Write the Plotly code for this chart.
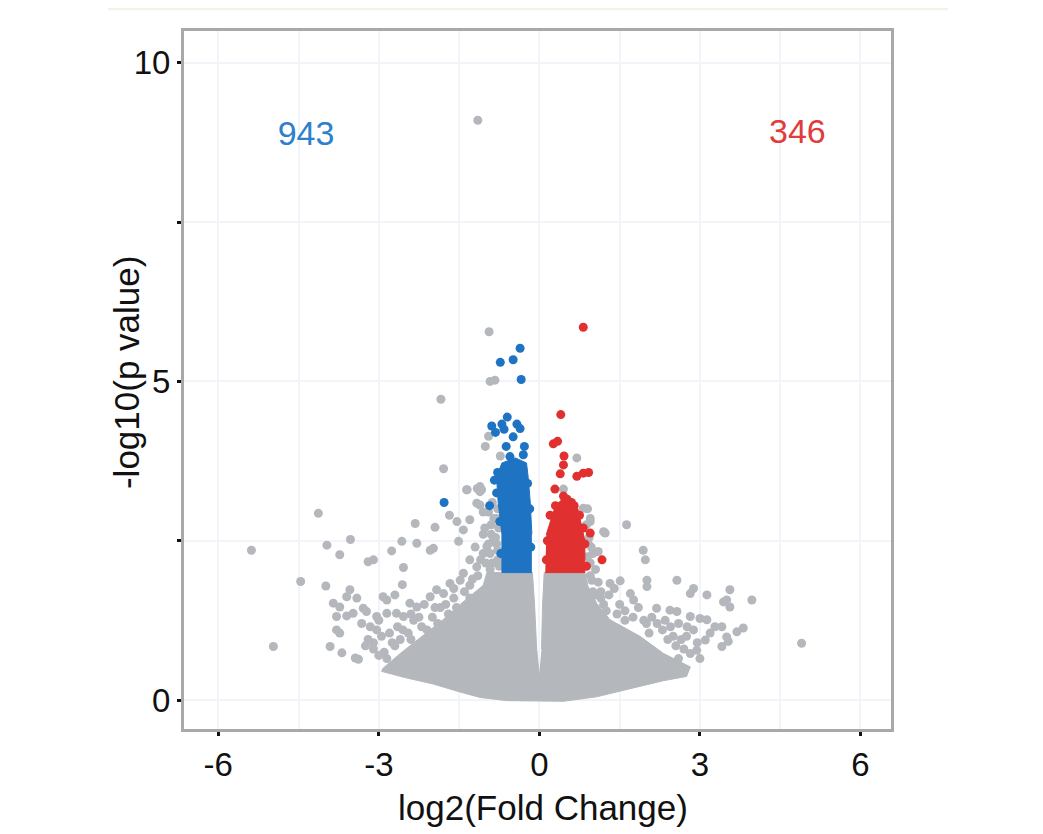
import plotly.graph_objects as go

# ---------------- data ----------------
# dense grey cloud outline (log2FC, -log10 p)
gray_core_x = [-0.005, -0.05, -0.09, -0.13, -0.72, -0.98, -1.05, -1.48, -1.80, -2.20, -2.60, -2.92, -2.95,
               -2.50, -1.98, -1.50, -1.11, -0.60, 0.0, 0.45, 1.07, 1.88, 2.30, 2.75, 2.82, 2.32, 1.88,
               1.32, 1.07, 0.91, 0.85, 0.09, 0.06, 0.04]
gray_core_y = [0.40, 0.80, 1.50, 2.00, 2.00, 2.00, 1.80, 1.50, 1.26, 1.00, 0.73, 0.50, 0.45,
               0.35, 0.25, 0.13, 0.04, -0.01, -0.02, -0.02, 0.05, 0.21, 0.30, 0.37, 0.52, 0.73, 1.00,
               1.26, 1.52, 1.78, 2.00, 2.00, 1.50, 0.80]

# dense blue (down) column outline
blue_core_x = [-0.14, -0.70, -0.70, -0.77, -0.80, -0.70, -0.45, -0.24, -0.21, -0.17, -0.14]
blue_core_y = [2.00, 2.00, 2.60, 3.10, 3.50, 3.72, 3.80, 3.72, 3.50, 3.10, 2.60]

# dense red (up) column outline
red_core_x = [0.11, 0.85, 0.85, 0.78, 0.72, 0.60, 0.45, 0.30, 0.22, 0.13]
red_core_y = [2.00, 2.00, 2.50, 2.75, 3.00, 3.10, 3.17, 3.05, 2.85, 2.60]

# individual grey genes
gray_x = [-5.38, -4.97, -4.13, -4.46, -3.97, -3.73, -3.53, -3.99, -3.91, -3.69, -3.44, -3.38, -3.20, -3.10,
          -2.76, -2.57, -2.54, -2.32, -2.29, -2.04, -1.98, -1.95, -1.68, -1.54, -1.51, -1.42, -1.30, -1.35,
          -1.17, -1.11, -1.11, -1.08, -2.56, -2.92, -2.85, -2.70, -3.54, -3.60, -3.41, -3.85, -3.73, -3.79,
          -3.60, -3.48, -3.79, -3.73, -3.29, -3.23, -3.32, -3.16, -3.04, -3.04, -2.85, -2.67, -2.54, -2.42,
          -2.29, -2.04, -1.92, -1.79, -1.67, -1.48, -1.42, -1.17, -1.05, -0.98, -0.86,
          -2.20, -2.00, -1.85, -1.60, -2.40, -2.70, -2.90, -3.10, -3.20, -2.55, -2.35, -1.30, -1.15,
          -0.78, -0.80, -0.76, -0.88, -0.92, -0.85, -0.95, -0.90,
          -1.15, -0.94, -0.92, -0.83, -1.84, -1.01, -0.95, -0.73, -1.79, -1.36, -1.11, -1.16,
          -3.00, -2.95, -2.80, -2.75, -2.65, -2.60, -2.45, -2.40, -2.25, -2.15, -2.10, -1.95, -1.90,
          -1.75, -1.70, -1.60, -1.55, -1.40, -1.30, -1.25, -1.10, -1.20, -1.30, -1.05, -3.10, -3.25,
          -3.00, -2.85,
          -0.75, -0.78, -0.82, -0.80, -0.90, -0.95, -1.00, -1.02, -0.88, -0.78, -1.05, -0.92,
          1.63, 1.23, 0.95, 1.10, 1.94, 1.98, 2.57, 2.01, 2.01, 1.51, 1.32, 0.98, 2.88, 2.82, 3.13,
          3.56, 3.50, 3.56, 3.44, 3.97, 3.81, 3.69, 3.50, 3.53, 3.28, 3.41, 3.00, 3.13, 2.44, 2.57,
          2.19, 1.70, 1.76, 2.82, 2.76, 2.88, 3.19, 3.10, 3.41, 2.94, 2.82, 4.90, 0.70, 0.45, 0.82,
          0.95, 1.20, 1.20, 1.45, 1.60, 2.00, 2.30, 2.50, 2.65, 2.60, 1.05, 1.15, 0.95, 0.91, 0.95,
          1.00, 1.10, 1.15, 1.30, 1.40, 1.50, 1.60, 1.75, 1.85, 1.95, 2.10, 2.20, 2.35, 2.45, 2.60,
          2.40, 2.55, 2.70, 2.75, 2.95, 3.00, 2.05, 1.25, 1.05, 1.00,
          0.90, 0.93, 0.88, 0.90, 0.97]
gray_y = [2.35, 0.84, 2.93, 1.86, 2.43, 2.28, 2.52, 1.79, 0.84, 0.74, 0.66, 0.64, 2.17, 2.20,
          2.34, 2.49, 2.08, 2.77, 2.46, 2.35, 2.38, 2.71, 2.90, 2.80, 2.49, 2.67, 2.83, 3.30,
          3.09, 3.06, 3.35, 3.30, 1.81, 1.62, 1.57, 1.65, 1.73, 1.62, 1.60, 1.52, 1.46, 1.31,
          1.32, 1.36, 1.10, 1.05, 1.44, 1.39, 1.20, 1.15, 1.10, 1.31, 1.36, 1.36, 1.31, 1.52,
          1.46, 1.62, 1.73, 1.67, 1.83, 1.88, 1.99, 2.09, 2.30, 2.41, 2.51,
          1.15, 1.30, 1.45, 1.60, 0.95, 0.85, 0.75, 0.90, 0.95, 1.10, 1.25, 1.80, 1.95,
          2.20, 2.45, 2.70, 2.15, 2.30, 2.85, 2.95, 2.60,
          9.10, 5.78, 5.00, 5.02, 4.72, 3.98, 4.14, 3.83, 3.63, 3.30, 3.27, 3.32,
          1.25, 1.00, 1.05, 0.90, 1.15, 0.95, 1.05, 1.35, 1.30, 1.50, 1.10, 1.45, 1.20,
          1.50, 1.35, 1.75, 1.45, 1.70, 1.60, 1.90, 2.20, 2.40, 2.20, 2.60, 0.80, 0.85,
          0.70, 0.65,
          2.10, 2.35, 2.55, 2.85, 2.75, 2.45, 2.15, 2.70, 3.10, 3.00, 2.95, 2.05,
          2.75, 2.62, 2.80, 2.33, 2.35, 2.20, 1.88, 1.88, 1.78, 1.87, 1.83, 1.88, 1.75, 1.67, 1.65,
          1.73, 1.57, 1.46, 1.54, 1.57, 1.13, 1.07, 0.99, 0.92, 1.15, 1.15, 1.28, 1.26, 1.41, 1.39,
          1.44, 1.67, 1.57, 1.31, 1.15, 1.10, 1.05, 0.94, 0.84, 0.78, 0.73, 0.89, 3.80, 3.31, 3.01,
          2.85, 2.64, 1.50, 1.35, 1.25, 1.20, 1.10, 1.00, 0.95, 0.65, 1.65, 1.70, 1.95, 2.46, 2.15,
          1.70, 1.85, 1.60, 1.65, 1.75, 1.50, 1.40, 1.30, 1.45, 1.25, 1.30, 1.20, 1.25, 1.15, 1.20,
          0.95, 0.85, 0.80, 1.00, 0.90, 0.65, 1.05, 1.40, 2.05, 2.30,
          2.25, 2.55, 2.75, 3.00, 2.40]

# individual down-regulated genes
blue_x = [-0.36, -0.73, -0.49, -0.34, -0.60, -0.89, -0.70, -0.42, -0.36, -0.49, -0.62, -0.28, -0.55,
          -0.78, -1.78, -0.93, -0.82, -0.66, -0.30, -0.84, -0.80, -0.72, -0.74, -0.16, -0.18, -0.22]
blue_y = [5.52, 5.30, 5.34, 5.03, 4.44, 4.30, 4.33, 4.33, 4.26, 4.13, 3.98, 3.98, 3.82,
          3.57, 3.10, 3.05, 4.20, 4.25, 3.85, 3.45, 3.25, 2.30, 2.80, 2.40, 3.00, 3.40]

# individual up-regulated genes
red_x = [0.82, 0.40, 0.26, 0.34, 0.46, 0.45, 0.39, 0.70, 0.82, 0.92, 0.29, 0.45, 0.95, 1.17, 0.60,
         0.30, 0.88, 0.85, 0.20, 0.75, 0.65, 0.52, 0.82, 0.13, 0.15]
red_y = [5.85, 4.48, 4.02, 4.06, 3.83, 3.69, 3.55, 3.51, 3.56, 3.57, 3.31, 3.20, 2.62, 2.20, 3.10,
         3.05, 2.10, 2.45, 2.90, 2.90, 3.05, 3.15, 2.70, 2.20, 2.50]

# counts of significant genes
count_labels = ["943", "346"]
count_x = [-4.36, 4.82]
count_y = [8.84, 8.87]

# axis ticks
x_ticks = [-6, -3, 0, 3, 6]
x_ticklabels = ["-6", "-3", "0", "3", "6"]
y_ticks = [0, 5, 10]
y_ticklabels = ["0", "5", "10"]

# ---------------- styling ----------------
GRAY = "#b4b7bc"
BLUE = "#1f73c3"
RED = "#e0302f"
FONT = "Liberation Sans, Arial, sans-serif"
GRID = "#f2f4f9"
INK = "#111111"
MS = 9

fig = go.Figure()

fig.add_trace(go.Scatter(x=gray_core_x, y=gray_core_y, mode="lines", fill="toself",
                         fillcolor=GRAY, line=dict(color=GRAY, width=1), hoverinfo="skip"))
fig.add_trace(go.Scatter(x=gray_x, y=gray_y, mode="markers",
                         marker=dict(color=GRAY, size=MS, line=dict(width=0))))
fig.add_trace(go.Scatter(x=blue_core_x, y=blue_core_y, mode="lines", fill="toself",
                         fillcolor=BLUE, line=dict(color=BLUE, width=1), hoverinfo="skip"))
fig.add_trace(go.Scatter(x=blue_x, y=blue_y, mode="markers",
                         marker=dict(color=BLUE, size=MS, line=dict(width=0))))
fig.add_trace(go.Scatter(x=red_core_x, y=red_core_y, mode="lines", fill="toself",
                         fillcolor=RED, line=dict(color=RED, width=1), hoverinfo="skip"))
fig.add_trace(go.Scatter(x=red_x, y=red_y, mode="markers",
                         marker=dict(color=RED, size=MS, line=dict(width=0))))
fig.add_trace(go.Scatter(x=count_x, y=count_y, mode="text", text=count_labels,
                         textfont=dict(family=FONT, size=34, color=["#2f80cc", "#e03c3c"])))

axis_common = dict(showline=True, mirror=True, linecolor="#a9a9a9", linewidth=3,
                   ticks="outside", ticklen=4, tickwidth=3, tickcolor=INK,
                   tickfont=dict(family=FONT, size=33, color=INK),
                   showgrid=True, gridcolor=GRID, gridwidth=1.5, zeroline=False)

fig.update_xaxes(range=[-6.64, 6.57], tickvals=x_ticks, ticktext=x_ticklabels, **axis_common,
                 minor=dict(tickvals=[-4.5, -1.5, 1.5, 4.5], ticks="", showgrid=True,
                            gridcolor=GRID, gridwidth=1.5))
fig.update_yaxes(range=[-0.455, 10.5], tickvals=y_ticks, ticktext=y_ticklabels, **axis_common,
                 minor=dict(tickvals=[2.5, 7.5], ticks="outside", ticklen=4, tickwidth=3,
                            tickcolor=INK, showgrid=True, gridcolor=GRID, gridwidth=1.5))

fig.update_layout(width=1043, height=834, showlegend=False,
                  paper_bgcolor="white", plot_bgcolor="white",
                  margin=dict(l=176, r=160, t=23, b=113, autoexpand=False),
                  annotations=[
                      dict(text="log2(Fold Change)", xref="paper", yref="paper", x=0.508, y=-0.113,
                           showarrow=False, xanchor="center", yanchor="middle",
                           font=dict(family=FONT, size=35, color=INK)),
                      dict(text="-log10(p value)", xref="paper", yref="paper", x=-0.082, y=0.51,
                           showarrow=False, xanchor="center", yanchor="middle", textangle=-90,
                           font=dict(family=FONT, size=35, color=INK)),
                  ],
                  shapes=[dict(type="line", xref="paper", yref="paper",
                               x0=-0.108, x1=1.08, y0=1.032, y1=1.032,
                               line=dict(color="#f1f3e4", width=3))])

fig.write_html("out.html")
